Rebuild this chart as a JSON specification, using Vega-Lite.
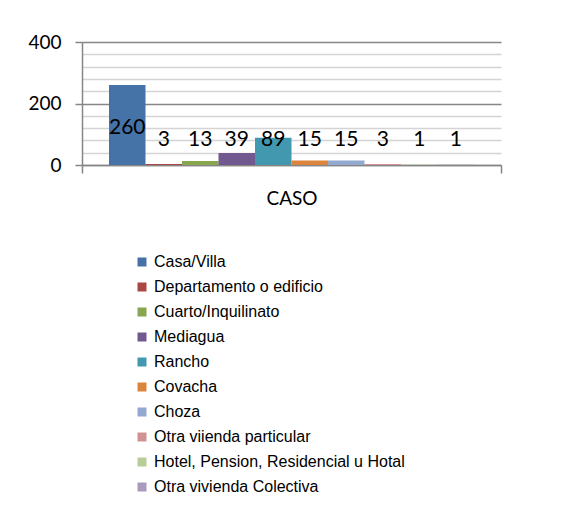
{
  "$schema": "https://vega.github.io/schema/vega-lite/v6.json",
  "autosize": {"type": "none"},
  "width": 419,
  "height": 123,
  "padding": {"left": 82, "top": 42, "right": 84, "bottom": 366},
  "background": "white",
  "data": {
    "values": [
      {"cat": "CASO", "tipo": "Casa/Villa", "casos": 260},
      {"cat": "CASO", "tipo": "Departamento o edificio", "casos": 3},
      {"cat": "CASO", "tipo": "Cuarto/Inquilinato", "casos": 13},
      {"cat": "CASO", "tipo": "Mediagua", "casos": 39},
      {"cat": "CASO", "tipo": "Rancho", "casos": 89},
      {"cat": "CASO", "tipo": "Covacha", "casos": 15},
      {"cat": "CASO", "tipo": "Choza", "casos": 15},
      {"cat": "CASO", "tipo": "Otra viienda particular", "casos": 3},
      {"cat": "CASO", "tipo": "Hotel, Pension, Residencial u Hotal", "casos": 1},
      {"cat": "CASO", "tipo": "Otra vivienda Colectiva", "casos": 1}
    ]
  },
  "encoding": {
    "x": {
      "field": "cat", "type": "nominal",
      "scale": {"paddingInner": 0, "paddingOuter": 0},
      "axis": {
        "title": "CASO", "labels": false, "ticks": true, "tickBand": "extent",
        "tickColor": "#868686", "tickSize": 8, "tickWidth": 1.5,
        "domainColor": "#868686", "domainWidth": 1.5,
        "titleFont": "Lato", "titleFontSize": 19, "titleFontWeight": "normal",
        "titleColor": "black", "titlePadding": 16
      }
    },
    "xOffset": {
      "field": "tipo", "type": "nominal",
      "sort": ["Casa/Villa", "Departamento o edificio", "Cuarto/Inquilinato", "Mediagua", "Rancho", "Covacha", "Choza", "Otra viienda particular", "Hotel, Pension, Residencial u Hotal", "Otra vivienda Colectiva"],
      "scale": {"paddingInner": 0, "paddingOuter": 0.74}
    }
  },
  "layer": [
    {
      "mark": {"type": "bar"},
      "encoding": {
        "y": {
          "field": "casos", "type": "quantitative",
          "scale": {"domain": [0, 400], "nice": false},
          "axis": {
            "title": null,
            "values": [0, 40, 80, 120, 160, 200, 240, 280, 320, 360, 400],
            "labelExpr": "datum.value % 200 === 0 ? datum.label : ''",
            "labelOverlap": false,
            "grid": true,
            "gridColor": {"condition": {"test": "datum.value % 200 === 0", "value": "#868686"}, "value": "#d4d4d4"},
            "gridWidth": 1.5,
            "tickColor": {"condition": {"test": "datum.value % 200 === 0", "value": "#868686"}, "value": "transparent"},
            "tickSize": 7, "tickWidth": 1.5,
            "domainColor": "#868686", "domainWidth": 1.5,
            "labelFont": "Lato", "labelFontSize": 19, "labelColor": "black",
            "labelPadding": 14
          }
        },
        "color": {
          "field": "tipo", "type": "nominal",
          "sort": ["Casa/Villa", "Departamento o edificio", "Cuarto/Inquilinato", "Mediagua", "Rancho", "Covacha", "Choza", "Otra viienda particular", "Hotel, Pension, Residencial u Hotal", "Otra vivienda Colectiva"],
          "scale": {"range": ["#4572A7", "#AA4643", "#89A54E", "#71588F", "#4198AF", "#DB843D", "#93A9CF", "#D19392", "#B9CD96", "#A99BBD"]},
          "legend": {
            "title": null, "orient": "none", "legendX": 52, "legendY": 212,
            "symbolType": "square", "symbolSize": 81, "symbolStrokeWidth": 0,
            "labelFont": "Liberation Sans", "labelFontSize": 16, "labelColor": "black",
            "labelOffset": 4, "rowPadding": 9, "labelLimit": 400
          }
        }
      }
    },
    {
      "transform": [{"filter": "datum.casos > 100"}],
      "mark": {"type": "text", "font": "Lato", "fontSize": 21, "color": "black", "baseline": "middle"},
      "encoding": {"y": {"datum": 120, "axis": null}, "text": {"field": "casos"}}
    },
    {
      "transform": [{"filter": "datum.casos <= 100"}],
      "mark": {"type": "text", "font": "Lato", "fontSize": 21, "color": "black", "baseline": "middle"},
      "encoding": {"y": {"datum": 81, "axis": null}, "text": {"field": "casos"}}
    }
  ],
  "resolve": {"axis": {"y": "independent"}},
  "config": {"view": {"stroke": null}}
}
